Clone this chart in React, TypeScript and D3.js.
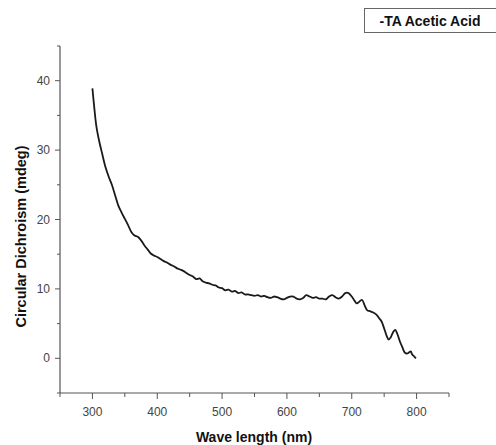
import React from "react";
import * as d3 from "d3";

// CD spectrum: wavelength (nm) and ellipticity (mdeg)
const wavelengths = [
  300, 303, 306, 310, 315, 320, 325, 330, 335, 340, 345, 350, 355, 360, 365, 370, 375, 380, 385, 390,
  395, 400, 405, 410, 415, 420, 425, 430, 435, 440, 445, 450, 455, 460, 465, 470, 475, 480, 485, 490,
  495, 500, 505, 510, 515, 520, 525, 530, 535, 540, 545, 550, 555, 560, 565, 570, 575, 580, 585, 590,
  595, 600, 605, 610, 615, 620, 625, 630, 635, 640, 645, 650, 655, 660, 665, 670, 675, 680, 685, 690,
  695, 700, 705, 708, 712, 716, 720, 724, 728, 733, 738, 742, 746, 750, 754, 757, 760, 764, 767, 770,
  774, 778, 782, 786, 789, 791, 793, 796, 799,
];
const cdValues = [
  38.9, 36, 33.5, 31.5, 29.5, 27.6, 26.2, 25, 23.5, 22, 21, 20.1, 19.2, 18.2, 17.7, 17.5, 17.0, 16.3, 15.7, 15.1,
  14.8, 14.6, 14.3, 14.0, 13.8, 13.5, 13.3, 13.0, 12.8, 12.6, 12.3, 12.0, 11.8, 11.4, 11.5, 11.1, 10.9, 10.8, 10.6, 10.5,
  10.2, 10.1, 9.8, 9.9, 9.6, 9.7, 9.4, 9.5, 9.2, 9.2, 9.1, 9.0, 9.1, 8.9, 9.0, 8.8, 8.7, 8.9, 8.8, 8.6,
  8.5, 8.7, 8.9, 8.9, 8.6, 8.5, 8.7, 9.1, 8.9, 8.7, 8.8, 8.6, 8.6, 8.5, 8.9, 9.1, 8.8, 8.6, 8.9, 9.4,
  9.4, 8.9, 8.2, 7.9, 8.2, 8.4, 7.6, 6.9, 6.8, 6.6, 6.3, 5.8, 5.3, 4.3, 3.2, 2.7, 3.0, 3.8, 4.1, 3.6,
  2.5, 1.6, 0.8, 0.7, 0.9, 1.0, 0.6, 0.3, 0.0,
];

const xMajorTicks = [300, 400, 500, 600, 700, 800];
const xMinorTicks = [250, 350, 450, 550, 650, 750, 850];
const yMajorTicks = [0, 10, 20, 30, 40];
const yMinorTicks = [-5, 5, 15, 25, 35, 45];

const legendLabel = "-TA Acetic Acid";
const xTitle = "Wave length (nm)";
const yTitle = "Circular Dichroism (mdeg)";

const W = 496;
const H = 445;
const left = 60;
const right = 449;
const top = 46;
const bottom = 393;

export default function App() {
  const x = d3.scaleLinear().domain([250, 850]).range([left, right]);
  const y = d3.scaleLinear().domain([-5, 45]).range([bottom, top]);
  const data = wavelengths.map((w, i) => [w, cdValues[i]] as [number, number]);
  const line = d3
    .line<[number, number]>()
    .x((d) => x(d[0]))
    .y((d) => y(d[1]))
    .curve(d3.curveCatmullRom.alpha(0.5));

  const axisColor = "#555";
  const font = "Liberation Sans, Arial, sans-serif";

  return (
    <svg
      width={W}
      height={H}
      style={{ position: "absolute", left: 0, top: 0, background: "#fff" }}
      fontFamily={font}
    >
      {/* legend */}
      <rect x={364.5} y={8.5} width={140} height={24} fill="#fff" stroke="#666" strokeWidth={1} />
      <text x={430} y={25.5} textAnchor="middle" fontSize={14} fontWeight="bold" fill="#111">
        {legendLabel}
      </text>

      {/* axes */}
      <line x1={left} x2={left} y1={top} y2={bottom} stroke={axisColor} strokeWidth={1.2} />
      <line x1={left} x2={right} y1={bottom} y2={bottom} stroke={axisColor} strokeWidth={1.2} />

      {xMajorTicks.map((t) => (
        <g key={"xM" + t}>
          <line x1={x(t)} x2={x(t)} y1={bottom} y2={bottom + 6} stroke={axisColor} strokeWidth={1} />
          <text x={x(t)} y={416} textAnchor="middle" fontSize={12} fill="#444">
            {t}
          </text>
        </g>
      ))}
      {xMinorTicks.map((t) => (
        <line key={"xm" + t} x1={x(t)} x2={x(t)} y1={bottom} y2={bottom + 4} stroke={axisColor} strokeWidth={1} />
      ))}
      {yMajorTicks.map((t) => (
        <g key={"yM" + t}>
          <line x1={left - 5} x2={left} y1={y(t)} y2={y(t)} stroke={axisColor} strokeWidth={1} />
          <text x={50} y={y(t) + 4} textAnchor="end" fontSize={12} fill="#444">
            {t}
          </text>
        </g>
      ))}
      {yMinorTicks.map((t) => (
        <line key={"ym" + t} x1={left - 3} x2={left} y1={y(t)} y2={y(t)} stroke={axisColor} strokeWidth={1} />
      ))}

      {/* titles */}
      <text x={254} y={442} textAnchor="middle" fontSize={14} fontWeight="bold" fill="#111">
        {xTitle}
      </text>
      <text
        transform={`translate(26, ${(top + bottom) / 2 + 17}) rotate(-90)`}
        textAnchor="middle"
        fontSize={14.5}
        fontWeight="bold"
        fill="#111"
      >
        {yTitle}
      </text>

      {/* spectrum */}
      <path d={line(data) ?? ""} fill="none" stroke="#1a1a1a" strokeWidth={1.8} strokeLinejoin="round" />
    </svg>
  );
}
